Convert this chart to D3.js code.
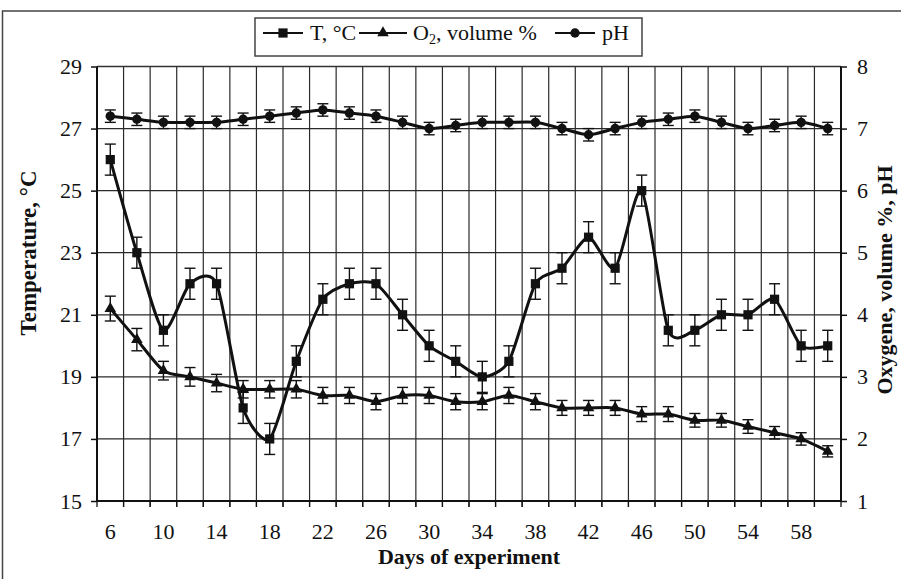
<!DOCTYPE html>
<html>
<head>
<meta charset="utf-8">
<script src="https://cdn.jsdelivr.net/npm/d3@7"></script>
<style>
  body { margin: 0; background: #fff; }
  svg { font-family: "Liberation Serif", "Times New Roman", serif; }
</style>
</head>
<body>
<svg id="chart" width="901" height="579"></svg>
<script>
// days of the experiment (category axis)
var days = [6, 8, 10, 12, 14, 16, 18, 20, 22, 24, 26, 28, 30, 32, 34, 36, 38, 40, 42, 44, 46, 48, 50, 52, 54, 56, 58, 60]
var dayLabels = [6, 10, 14, 18, 22, 26, 30, 34, 38, 42, 46, 50, 54, 58]

// temperature, left axis
var tempC = [26, 23, 20.5, 22, 22, 18, 17, 19.5, 21.5, 22, 22, 21, 20, 19.5, 19, 19.5, 22, 22.5, 23.5, 22.5, 25, 20.5, 20.5, 21, 21, 21.5, 20, 20]
var tempErr = 0.5

// oxygen, right axis
var oxygen = [4.1, 3.6, 3.1, 3.0, 2.9, 2.8, 2.8, 2.8, 2.7, 2.7, 2.6, 2.7, 2.7, 2.6, 2.6, 2.7, 2.6, 2.5, 2.5, 2.5, 2.4, 2.4, 2.3, 2.3, 2.2, 2.1, 2.0, 1.8]
var oxygenErr = [0.2, 0.18, 0.15, 0.15, 0.14, 0.14, 0.14, 0.14, 0.13, 0.13, 0.13, 0.13, 0.13, 0.13, 0.13, 0.13, 0.13, 0.12, 0.12, 0.12, 0.12, 0.12, 0.11, 0.11, 0.11, 0.1, 0.1, 0.09]

// pH, right axis
var pH = [7.2, 7.15, 7.1, 7.1, 7.1, 7.15, 7.2, 7.25, 7.3, 7.25, 7.2, 7.1, 7.0, 7.05, 7.1, 7.1, 7.1, 7.0, 6.9, 7.0, 7.1, 7.15, 7.2, 7.1, 7.0, 7.05, 7.1, 7.0]
var pHErr = 0.1

var leftTicks = [15, 17, 19, 21, 23, 25, 27, 29]
var rightTicks = [1, 2, 3, 4, 5, 6, 7, 8]

var svg = d3.select('#chart')
var ink = '#111'
var pLeft = 97, pRight = 841, pTop = 66.5, pBottom = 501

var x = d3.scaleBand().domain(days).range([pLeft, pRight]).padding(0)
var bw = x.bandwidth()
var cx = function (d) { return x(d) + bw / 2 }
var yL = d3.scaleLinear().domain([15, 29]).range([pBottom, pTop])
var yR = d3.scaleLinear().domain([1, 8]).range([pBottom, pTop])

/** outer frame of the figure */
svg.append('rect').attr('x', 2.5).attr('y', 11).attr('width', 910).attr('height', 600)
  .attr('fill', 'none').attr('stroke', '#444').attr('stroke-width', 1.5)

/** grid */
var grid = svg.append('g').attr('stroke', '#2a2a2a').attr('stroke-width', 1.2)
grid.selectAll('line.h').data(leftTicks).enter().append('line')
  .attr('x1', pLeft).attr('x2', pRight).attr('y1', function (d) { return yL(d) }).attr('y2', function (d) { return yL(d) })
grid.selectAll('line.v').data(days.slice(1)).enter().append('line')
  .attr('x1', function (d) { return x(d) }).attr('x2', function (d) { return x(d) })
  .attr('y1', pTop).attr('y2', pBottom + 6)

/** axes */
var axL = svg.append('g').attr('transform', 'translate(' + pLeft + ',0)')
  .call(d3.axisLeft(yL).tickValues(leftTicks).tickSize(6).tickPadding(9).tickFormat(d3.format('d')))
var axR = svg.append('g').attr('transform', 'translate(' + pRight + ',0)')
  .call(d3.axisRight(yR).tickValues(rightTicks).tickSize(6).tickPadding(10).tickFormat(d3.format('d')))
var axB = svg.append('g').attr('transform', 'translate(0,' + pBottom + ')')
  .call(d3.axisBottom(x).tickValues(dayLabels).tickSize(0).tickPadding(22))
;[axL, axR, axB].forEach(function (a) {
  a.selectAll('text').attr('font-size', 22).attr('fill', ink).style('font-family', '"Liberation Serif", serif')
  a.selectAll('line').attr('stroke', ink).attr('stroke-width', 1.5)
  a.select('.domain').remove()
})
svg.append('g').selectAll('line').data(days).enter().append('line')
  .attr('x1', function (d) { return x(d) }).attr('x2', function (d) { return x(d) })
  .attr('y1', pBottom).attr('y2', pBottom + 6).attr('stroke', ink).attr('stroke-width', 1.3)
svg.append('line').attr('x1', pRight).attr('x2', pRight).attr('y1', pBottom).attr('y2', pBottom + 6).attr('stroke', ink).attr('stroke-width', 1.3)

// plot frame
svg.append('line').attr('x1', pLeft).attr('x2', pRight).attr('y1', pTop).attr('y2', pTop).attr('stroke', '#333').attr('stroke-width', 1.3)
svg.append('line').attr('x1', pLeft).attr('x2', pLeft).attr('y1', pTop).attr('y2', pBottom).attr('stroke', ink).attr('stroke-width', 2)
svg.append('line').attr('x1', pRight).attr('x2', pRight).attr('y1', pTop).attr('y2', pBottom).attr('stroke', ink).attr('stroke-width', 2)
svg.append('line').attr('x1', pLeft - 1).attr('x2', pRight + 1).attr('y1', pBottom).attr('y2', pBottom).attr('stroke', ink).attr('stroke-width', 2.2)

/** series */
function drawSeries (vals, errs, y, symbol, size, capW) {
  var pts = days.map(function (d, i) { return { x: cx(d), v: vals[i], e: Array.isArray(errs) ? errs[i] : errs } })
  var line = d3.line().x(function (p) { return p.x }).y(function (p) { return y(p.v) }).curve(d3.curveCardinal.tension(0.3))
  var g = svg.append('g')
  g.append('path').attr('d', line(pts)).attr('fill', 'none').attr('stroke', ink).attr('stroke-width', 3).attr('stroke-linejoin', 'round')
  var eb = g.append('g').attr('stroke', ink).attr('stroke-width', 1.4)
  pts.forEach(function (p) {
    var y1 = y(p.v + p.e), y2 = y(p.v - p.e)
    eb.append('line').attr('x1', p.x).attr('x2', p.x).attr('y1', y1).attr('y2', y2)
    eb.append('line').attr('x1', p.x - capW).attr('x2', p.x + capW).attr('y1', y1).attr('y2', y1)
    eb.append('line').attr('x1', p.x - capW).attr('x2', p.x + capW).attr('y1', y2).attr('y2', y2)
  })
  g.selectAll('path.m').data(pts).enter().append('path')
    .attr('d', d3.symbol().type(symbol).size(size))
    .attr('transform', function (p) { return 'translate(' + p.x + ',' + y(p.v) + ')' })
    .attr('fill', ink)
}
drawSeries(pH, pHErr, yR, d3.symbolCircle, 70, 5.5)
drawSeries(oxygen, oxygenErr, yR, d3.symbolTriangle, 58, 5.5)
drawSeries(tempC, tempErr, yL, d3.symbolSquare, 85, 5.5)

/** axis titles */
svg.append('text').attr('transform', 'translate(36,253) rotate(-90)').attr('text-anchor', 'middle')
  .attr('font-size', 23).attr('font-weight', 'bold').attr('fill', ink).text('Temperature, °C')
svg.append('text').attr('transform', 'translate(892,280) rotate(-90)').attr('text-anchor', 'middle')
  .attr('font-size', 22).attr('font-weight', 'bold').attr('fill', ink).text('Oxygene, volume %, pH')
svg.append('text').attr('x', (pLeft + pRight) / 2).attr('y', 564).attr('text-anchor', 'middle')
  .attr('font-size', 22).attr('font-weight', 'bold').attr('fill', ink).text('Days of experiment')

/** legend */
var lg = svg.append('g')
lg.append('rect').attr('x', 255).attr('y', 18).attr('width', 387).attr('height', 38)
  .attr('fill', '#fff').attr('stroke', '#444').attr('stroke-width', 1.5)
var legendItems = [
  { x1: 263, x2: 303, sym: d3.symbolSquare, size: 85, tx: 310 },
  { x1: 359, x2: 407, sym: d3.symbolTriangle, size: 58, tx: 413 },
  { x1: 555, x2: 595, sym: d3.symbolCircle, size: 70, tx: 602 }
]
legendItems.forEach(function (it, i) {
  var ly = 33
  lg.append('line').attr('x1', it.x1).attr('x2', it.x2).attr('y1', ly).attr('y2', ly).attr('stroke', ink).attr('stroke-width', 2)
  lg.append('path').attr('d', d3.symbol().type(it.sym).size(it.size)).attr('transform', 'translate(' + ((it.x1 + it.x2) / 2) + ',' + ly + ')').attr('fill', ink)
  var t = lg.append('text').attr('x', it.tx).attr('y', 40).attr('font-size', 22).attr('fill', ink)
  if (i === 0) t.text('T, °C')
  if (i === 1) {
    t.append('tspan').text('O')
    t.append('tspan').attr('font-size', 14).attr('dy', 4).text('2')
    t.append('tspan').attr('dy', -4).text(', volume %')
  }
  if (i === 2) t.text('pH')
})
</script>
</body>
</html>
